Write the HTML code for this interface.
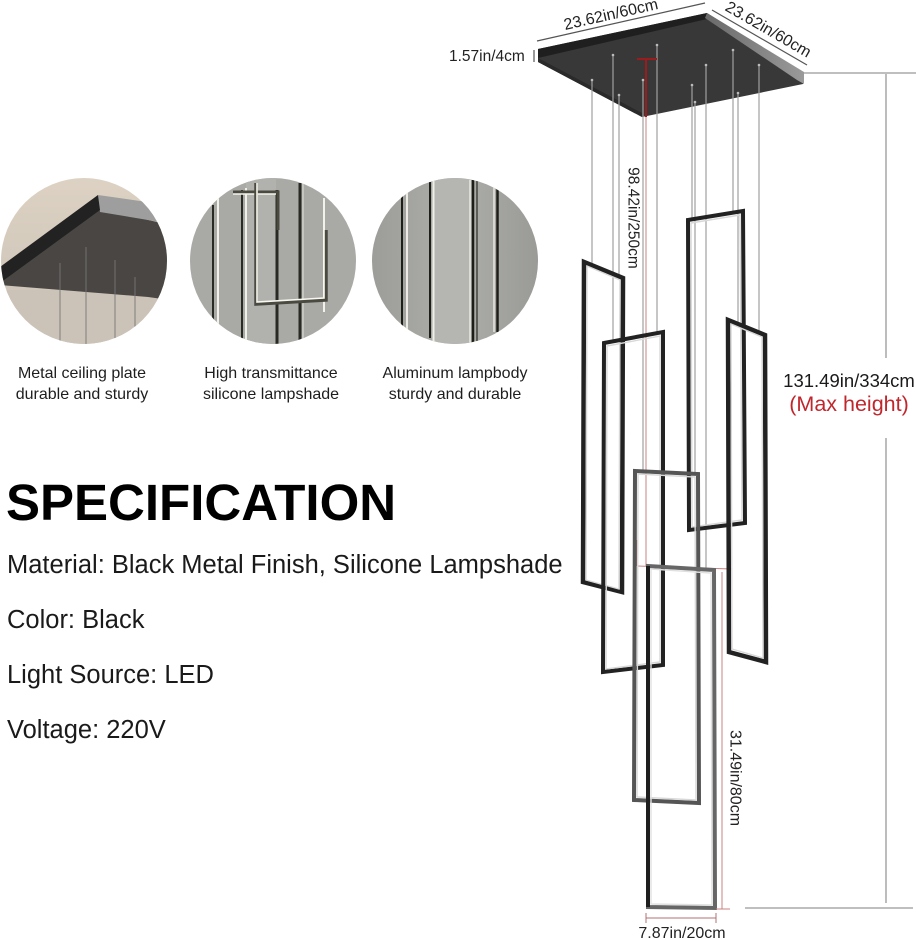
<!DOCTYPE html>
<html><head><meta charset="utf-8"><style>
html,body{margin:0;padding:0;background:#fff;}
svg{display:block;}
text{font-family:"Liberation Sans",Arial,sans-serif;}
</style></head><body>
<svg width="916" height="940" viewBox="0 0 916 940" xmlns="http://www.w3.org/2000/svg">
<defs>
<clipPath id="c1"><circle cx="84" cy="261" r="83"/></clipPath>
<clipPath id="c2"><circle cx="273" cy="261" r="83"/></clipPath>
<clipPath id="c3"><circle cx="455" cy="261" r="83"/></clipPath>
<linearGradient id="beige" x1="0" y1="0" x2="0" y2="1"><stop offset="0" stop-color="#ddd2c3"/><stop offset="1" stop-color="#c9c1b6"/></linearGradient>
<linearGradient id="g3" x1="0" y1="0" x2="1" y2="0"><stop offset="0" stop-color="#9c9d99"/><stop offset="0.5" stop-color="#adaeaa"/><stop offset="1" stop-color="#999a96"/></linearGradient>
<linearGradient id="side" x1="0" y1="0" x2="1" y2="0"><stop offset="0" stop-color="#6a6a6a"/><stop offset="1" stop-color="#9a9a9a"/></linearGradient>
</defs>

<!-- Circle 1 -->
<g clip-path="url(#c1)">
<rect x="0" y="176" width="170" height="170" fill="url(#beige)"/>
<rect x="0" y="290" width="170" height="60" fill="#cbc3b8"/>
<polygon points="0,282 100,209 157,222 170,226 170,300 148,297 0,285" fill="#4a4644"/>
<polygon points="98,195 147,202 160,222 100,212" fill="#9e9e9e"/>
<polygon points="0,267 98,195 100,210 0,283" fill="#222"/>
<g stroke="#777" stroke-width="0.9">
<line x1="60" y1="263" x2="60" y2="346"/>
<line x1="86" y1="247" x2="86" y2="346"/>
<line x1="115" y1="260" x2="115" y2="346"/>
<line x1="135" y1="277" x2="135" y2="346"/>
</g>
</g>

<!-- Circle 2 -->
<g clip-path="url(#c2)">
<rect x="188" y="176" width="172" height="172" fill="#a9aaa6"/>
<rect x="246" y="176" width="30" height="172" fill="#b1b2ae"/>
<g stroke-linecap="butt">
<line x1="213" y1="205" x2="213" y2="322" stroke="#2a2a24" stroke-width="2"/>
<line x1="218" y1="195" x2="218" y2="325" stroke="#f2f2ea" stroke-width="2"/>
<line x1="242" y1="190" x2="242" y2="340" stroke="#2a2a24" stroke-width="2"/>
<line x1="246" y1="188" x2="246" y2="340" stroke="#f0f0e8" stroke-width="2"/>
<line x1="277" y1="190" x2="277" y2="346" stroke="#2a2a24" stroke-width="3"/>
<line x1="300" y1="183" x2="300" y2="346" stroke="#2a2a24" stroke-width="3"/>
<line x1="303" y1="183" x2="303" y2="346" stroke="#d8d8d0" stroke-width="1.2"/>
<line x1="324" y1="198" x2="324" y2="312" stroke="#f2f2ea" stroke-width="2"/>
<polyline points="233,192 278,192 278,230" fill="none" stroke="#4a4a40" stroke-width="3"/>
<polyline points="233,194 276,194" fill="none" stroke="#f5f5ee" stroke-width="1.5"/>
<polyline points="256,183 256,304 326,300 326,230" fill="none" stroke="#4a4a40" stroke-width="3.5"/>
<polyline points="257,183 257,302 324,298 324,230" fill="none" stroke="#f8f8f0" stroke-width="1.6"/>
</g>
</g>

<!-- Circle 3 -->
<g clip-path="url(#c3)">
<rect x="370" y="176" width="172" height="172" fill="url(#g3)"/>
<rect x="433" y="176" width="38" height="172" fill="#b5b6b1"/>
<line x1="402" y1="196" x2="402" y2="326" stroke="#1e1e18" stroke-width="2"/>
<line x1="407" y1="184" x2="407" y2="340" stroke="#ecece4" stroke-width="2"/>
<line x1="430" y1="182" x2="430" y2="338" stroke="#1e1e18" stroke-width="2"/>
<line x1="433.5" y1="180" x2="433.5" y2="342" stroke="#efefe7" stroke-width="2"/>
<line x1="470" y1="180" x2="470" y2="344" stroke="#e8e8e0" stroke-width="1.5"/>
<line x1="473" y1="180" x2="473" y2="344" stroke="#1e1e18" stroke-width="2.5"/>
<line x1="477" y1="180" x2="477" y2="344" stroke="#2a2a24" stroke-width="1.2"/>
<line x1="494" y1="186" x2="494" y2="332" stroke="#e8e8e0" stroke-width="1.5"/>
<line x1="497.5" y1="186" x2="497.5" y2="332" stroke="#1e1e18" stroke-width="2.5"/>
</g>

<!-- Circle labels -->
<g font-size="16" fill="#1e1e1e" text-anchor="middle">
<text x="82" y="378">Metal ceiling plate</text>
<text x="82" y="399">durable and sturdy</text>
<text x="271" y="378">High transmittance</text>
<text x="271" y="399">silicone lampshade</text>
<text x="455" y="378">Aluminum lampbody</text>
<text x="455" y="399">sturdy and durable</text>
</g>

<!-- Specification -->
<text x="6" y="520" font-size="51" font-weight="bold" fill="#000">SPECIFICATION</text>
<g font-size="25.5" fill="#1a1a1a">
<text x="7" y="573">Material: Black Metal Finish, Silicone Lampshade</text>
<text x="7" y="628">Color: Black</text>
<text x="7" y="683">Light Source: LED</text>
<text x="7" y="738">Voltage: 220V</text>
</g>

<!-- Ceiling plate -->
<polygon points="538,49 707,13 803,73 803,84 642,117 538,62" fill="#383838"/>
<polygon points="538,49 707,13 707,19 538,58" fill="#1f1f1f"/>
<polygon points="707,13 804,72 804,84 797,80 705,18" fill="url(#side)"/>
<polygon points="538,58 538,62 642,117 642,113" fill="#2a2a2a"/>

<!-- Dimension lines top -->
<line x1="537" y1="41" x2="705" y2="3" stroke="#555" stroke-width="1.2"/>
<text x="611" y="15" font-size="16" fill="#222" text-anchor="middle" dominant-baseline="central" transform="rotate(-12.7 611 15)">23.62in/60cm</text>
<line x1="712" y1="10" x2="807" y2="65" stroke="#555" stroke-width="1.2"/>
<text x="768" y="30" font-size="16" fill="#222" text-anchor="middle" dominant-baseline="central" transform="rotate(30 768 30)">23.62in/60cm</text>
<text x="449" y="61" font-size="15.5" fill="#222">1.57in/4cm</text>
<line x1="534" y1="50" x2="534" y2="62" stroke="#555" stroke-width="1.2"/>

<!-- Wires -->
<g stroke="#a0a0a0" stroke-width="1.2">
<line x1="592" y1="80" x2="592" y2="264"/>
<line x1="613" y1="55" x2="613" y2="341"/>
<line x1="619" y1="95" x2="619" y2="276"/>
<line x1="643" y1="80" x2="643" y2="472"/>
<line x1="657" y1="45" x2="657" y2="334"/>
<line x1="692" y1="85" x2="692" y2="220"/>
<line x1="695" y1="102" x2="695" y2="474"/>
<line x1="706" y1="65" x2="706" y2="570"/>
<line x1="733" y1="50" x2="733" y2="212"/>
<line x1="738" y1="93" x2="738" y2="322"/>
<line x1="759" y1="65" x2="759" y2="334"/>
</g>
<g fill="#bbb">
<circle cx="592" cy="80" r="1.3"/><circle cx="613" cy="55" r="1.3"/><circle cx="619" cy="95" r="1.3"/>
<circle cx="643" cy="80" r="1.3"/><circle cx="657" cy="45" r="1.3"/><circle cx="692" cy="85" r="1.3"/>
<circle cx="695" cy="102" r="1.3"/><circle cx="706" cy="65" r="1.3"/><circle cx="733" cy="50" r="1.3"/>
<circle cx="738" cy="93" r="1.3"/><circle cx="759" cy="65" r="1.3"/>
</g>

<!-- Red 98.42 dimension -->
<line x1="637" y1="59" x2="657" y2="59" stroke="#9b1c1c" stroke-width="2"/>
<line x1="646" y1="59" x2="646" y2="117" stroke="#9b1c1c" stroke-width="2"/>
<line x1="646" y1="117" x2="646" y2="566" stroke="#c98080" stroke-width="1"/>
<line x1="637" y1="540" x2="637" y2="566" stroke="#c98080" stroke-width="1"/>
<line x1="637" y1="566" x2="732" y2="569" stroke="#c98080" stroke-width="1"/>
<text x="633" y="218" font-size="15.5" fill="#222" text-anchor="middle" dominant-baseline="central" transform="rotate(90 633 218)">98.42in/250cm</text>

<!-- Frames -->
<g fill="none" stroke-linejoin="miter">
<polygon points="584,262 623,278 622,592 583,582" stroke="#222" stroke-width="4.5"/>
<polygon points="587,266 620,280 619,589 586,580" stroke="#d8d8d8" stroke-width="1.4"/>
<polygon points="688,220 743,211 745,523 689,530" stroke="#222" stroke-width="4"/>
<polygon points="691,223 740,215 742,520 692,527" stroke="#d8d8d8" stroke-width="1.4"/>
<polygon points="728,320 765,335 766,662 729,652" stroke="#222" stroke-width="4.5"/>
<polygon points="731,324 762,337 763,658 732,649" stroke="#d8d8d8" stroke-width="1.4"/>
<polygon points="604,343 663,332 663,665 603,672" stroke="#222" stroke-width="4"/>
<polygon points="607,346 660,336 660,662 606,669" stroke="#d8d8d8" stroke-width="1.4"/>
<polygon points="635,471 698,474 699,803 634,800" stroke="#555" stroke-width="4"/>
<polygon points="638,474 695,477 696,800 637,797" stroke="#d8d8d8" stroke-width="1.4"/>
<polygon points="648,566 714,570 715,908 648,907" stroke="#666" stroke-width="4"/>
<polygon points="651,569 711,573 712,905 651,904" stroke="#e0e0e0" stroke-width="1.4"/>
<line x1="648" y1="566" x2="648" y2="907" stroke="#1e1e1e" stroke-width="4"/>
</g>

<!-- 31.49 dimension -->
<line x1="722" y1="572" x2="722" y2="909" stroke="#c98080" stroke-width="1"/>
<line x1="716" y1="909" x2="730" y2="909" stroke="#c98080" stroke-width="1"/>
<text x="735" y="778" font-size="16" fill="#222" text-anchor="middle" dominant-baseline="central" transform="rotate(90 735 778)">31.49in/80cm</text>

<!-- 7.87 dimension -->
<line x1="646" y1="918" x2="716" y2="918" stroke="#b07070" stroke-width="1"/>
<line x1="646" y1="913" x2="646" y2="923" stroke="#b07070" stroke-width="1"/>
<line x1="716" y1="913" x2="716" y2="923" stroke="#b07070" stroke-width="1"/>
<text x="682" y="938" font-size="16" fill="#222" text-anchor="middle">7.87in/20cm</text>

<!-- Max height dimension -->
<line x1="803" y1="73" x2="916" y2="73" stroke="#999" stroke-width="1.3"/>
<line x1="886" y1="74" x2="886" y2="358" stroke="#999" stroke-width="1.3"/>
<line x1="886" y1="438" x2="886" y2="903" stroke="#999" stroke-width="1.3"/>
<line x1="745" y1="908" x2="913" y2="908" stroke="#999" stroke-width="1.3"/>
<text x="849" y="387" font-size="18.5" fill="#1a1a1a" text-anchor="middle">131.49in/334cm</text>
<text x="849" y="411" font-size="21.5" fill="#c0272d" text-anchor="middle">(Max height)</text>
</svg>
</body></html>
